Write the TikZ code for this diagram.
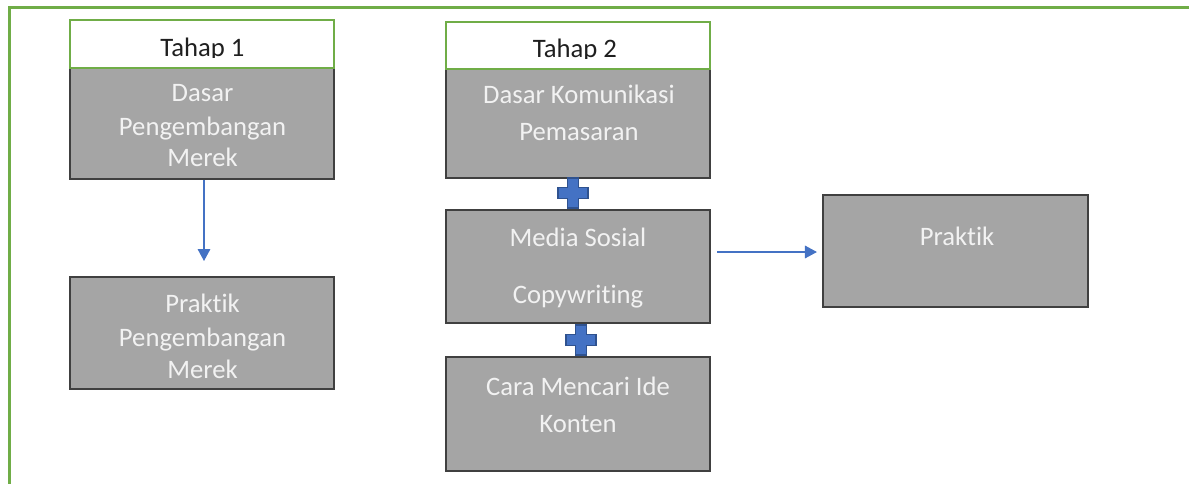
\documentclass[tikz,border=0pt]{standalone}
\usepackage{fontspec}
\setmainfont{Carlito}[Ligatures=NoCommon]
\usetikzlibrary{arrows.meta}
\definecolor{frameg}{HTML}{70AD47}
\definecolor{boxg}{HTML}{A5A5A5}
\definecolor{boxb}{HTML}{404040}
\definecolor{txtw}{HTML}{F2F2F2}
\definecolor{arrb}{HTML}{4472C4}
\definecolor{plusb}{HTML}{2F528F}
\begin{document}
\begin{tikzpicture}[x=0.75pt,y=-0.75pt,
  graybox/.style={draw=boxb, fill=boxg, line width=1.6pt, inner sep=0pt, minimum width=198pt},
  hdrbox/.style={draw=frameg, fill=white, line width=1.6pt, inner sep=0pt, minimum width=198pt},
  lbl/.style={text=txtw, font=\fontsize{20}{24}\selectfont, anchor=base, inner sep=0pt},
  hdrlbl/.style={text=black!88, font=\fontsize{20}{24}\selectfont, anchor=base, inner sep=0pt},
  arrowline/.style={draw=arrb, line width=0.9pt, -{Triangle[length=9pt,width=9.5pt]}},
  plusmark/.pic={\draw[fill=arrb, draw=plusb, line width=1.2pt]
     (-5.5,-15) -- (5.5,-15) -- (5.5,-5.5) -- (15,-5.5) -- (15,5.5) -- (5.5,5.5) -- (5.5,15)
     -- (-5.5,15) -- (-5.5,5.5) -- (-15,5.5) -- (-15,-5.5) -- (-5.5,-5.5) -- cycle;}
]
\useasboundingbox (0,0) rectangle (1189,483);
% outer frame
\draw[frameg, line width=2.25pt] (9,490) -- (9,7) -- (1195,7);

% gray boxes
\node[graybox, minimum height=83.25pt] (b1) at (202,123.5) {};
\node[graybox, minimum height=84pt] (b2) at (202,333) {};
\node[graybox, minimum height=81.75pt] (c1) at (578,123.5) {};
\node[graybox, minimum height=84.75pt] (c2) at (578,266.5) {};
\node[graybox, minimum height=85.5pt] (c3) at (578,414) {};
\node[graybox, minimum width=198.75pt, minimum height=84pt] (p) at (955.5,251) {};

% header boxes
\node[hdrbox, minimum height=36pt] (h1) at (202,44) {};
\node[hdrbox, minimum height=35.25pt] (h2) at (578,45.5) {};
\begin{scope}
  \clip (70,20) rectangle (334,57);
  \node[hdrlbl] (h1t) at (202.5,56) {Tahap 1};
\end{scope}
\begin{scope}
  \clip (446,22) rectangle (710,58);
  \node[hdrlbl] (h2t) at (575,57) {Tahap 2};
\end{scope}

% texts
\node[lbl] (b1t1) at (202.5,101.7) {Dasar};
\node[lbl] (b1t2) at (202.5,135) {Pengembangan};
\node[lbl] (b1t3) at (202.5,166.7) {Merek};
\node[lbl] (b2t1) at (202.5,312.7) {Praktik};
\node[lbl] (b2t2) at (202.5,346.7) {Pengembangan};
\node[lbl] (b2t3) at (202.5,378) {Merek};
\node[lbl] (c1t1) at (579,103) {Dasar Komunikasi};
\node[lbl] (c1t2) at (579,140) {Pemasaran};
\node[lbl] (c2t1) at (578,246) {Media Sosial};
\node[lbl] (c2t2) at (578,303) {Copywriting};
\node[lbl] (c3t1) at (578,395) {Cara Mencari Ide};
\node[lbl] (c3t2) at (578,432) {Konten};
\node[lbl] (pt) at (957,245) {Praktik};

% plus signs
\pic at (573,193) {plusmark};
\pic at (581,340) {plusmark};

% arrows
\coordinate (a1end) at (204,261);
\draw[arrowline] ([xshift=1.5pt]b1.south) -- (a1end);
\draw[arrowline] ([shift={(6,-14.5)}]c2.east) -- ([shift={(-5,1)}]p.west);
\end{tikzpicture}
\end{document}
